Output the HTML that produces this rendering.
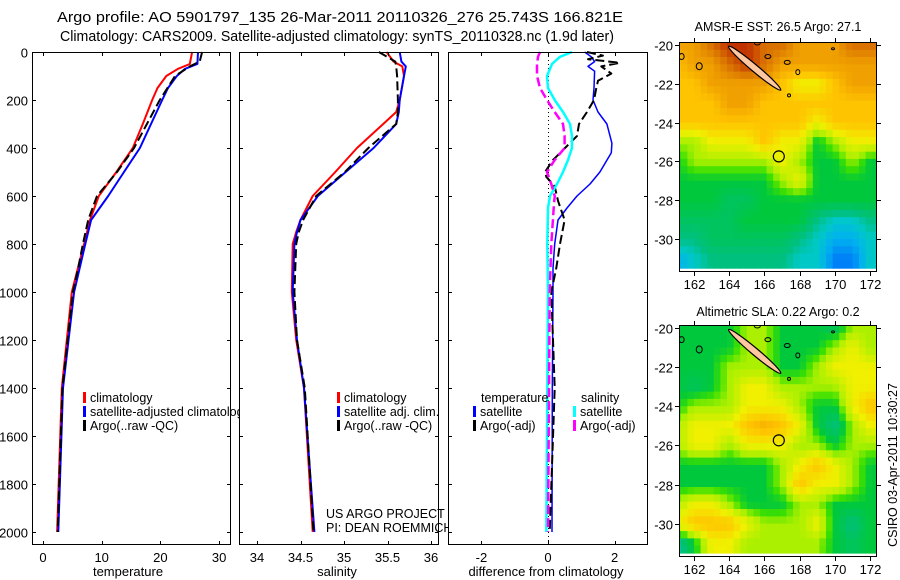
<!DOCTYPE html>
<html><head><meta charset="utf-8"><style>
html,body{margin:0;padding:0;background:#fff;}
svg{display:block;font-family:"Liberation Sans",sans-serif;}
</style></head><body>
<svg id="c" width="900" height="580" viewBox="0 0 900 580"></svg>
<script>
// ---------- data ----------
const tempDepth=[0,50,70,100,150,200,300,400,500,600,700,800,1000,1400,2000];
const tempClim=[25.4,25.0,23.0,21.0,19.5,18.6,17.0,15.3,12.5,9.5,8.0,7.0,4.9,3.2,2.4];
const tempSat=[26.4,26.3,24.2,22.8,21.3,20.3,18.4,16.5,13.8,11.1,8.2,7.2,5.3,3.4,2.6];
const argoDepth=[0,40,60,100,200,300,400,500,600,700,800,900,1000,1400,2000];
const tempArgo=[27.1,26.7,25.0,22.5,19.9,17.7,15.5,12.6,9.2,7.7,6.8,6.0,5.1,3.3,2.5];
const salDepth=[0,40,60,100,200,250,300,400,500,600,700,750,800,1000,1200,1400,2000];
const salClim=[35.49,35.57,35.67,35.69,35.64,35.6,35.45,35.15,34.9,34.64,34.5,34.45,34.41,34.4,34.45,34.54,34.64];
const salSat=[35.64,35.66,35.71,35.69,35.64,35.63,35.6,35.34,35.02,34.7,34.5,34.46,34.43,34.41,34.46,34.54,34.66];
const salArgo=[35.4,35.59,35.6,35.61,35.62,35.62,35.6,35.28,35.01,34.68,34.53,34.48,34.45,34.43,34.46,34.55,34.65];
const diffDepth=[0,20,40,60,80,150,200,250,300,380,420,500,550,600,650,700,800,900,1000,1400,2000];
const dTempSat=[1.1,1.3,1.4,1.2,1.4,1.38,1.35,1.5,1.77,1.92,1.9,1.56,1.26,0.87,0.57,0.3,0.2,0.15,0.15,0.13,0.12];
const argoDiffDepth=[0,15,30,45,60,90,120,150,200,250,300,350,400,450,500,520,560,620,700,800,900,1000,1400,2000];
const dTempArgo=[1.17,1.65,1.2,2.15,1.6,1.9,1.5,1.45,1.38,1.17,0.93,0.87,0.51,0.15,-0.09,-0.05,0.2,0.3,0.5,0.36,0.25,0.1,0.2,0.05];
const sDiffDepth=[0,20,50,100,150,200,250,300,350,400,450,500,550,600,650,800,1000,2000];
const dSalSat=[0.72,0.36,0.12,-0.03,0,0.2,0.45,0.66,0.72,0.72,0.6,0.45,0.27,0.06,0,-0.02,0,-0.05];
const dSalArgo=[-0.24,-0.3,-0.33,-0.33,-0.24,-0.03,0.2,0.45,0.5,0.5,0.2,-0.03,0.1,0.2,0.17,0.1,0.05,0];
const depthTicks=[0,200,400,600,800,1000,1200,1400,1600,1800,2000];
const tempTicks=[0,10,20,30];
const salTicks=[34,34.5,35,35.5,36];
const diffTicks=[-2,0,2];
const lonTicks=[162,164,166,168,170,172];
const latTicks=[-20,-22,-24,-26,-28,-30];
const gridLon=[161,162,163,164,165,166,167,168,169,170,171,172];
const gridLat=[-20,-21,-22,-23,-24,-25,-26,-27,-28,-29,-30,-31];
const sstGrid=[
[7,7,8,9,9,8,8,7,7,7,8,8],
[6,7,7,8,9,8,7,7,7,7,7,7],
[6,6,7,7,7,7,6,5,5,6,7,7],
[6,6,6,7,7,6,6,6,6,6,6,6],
[6,6,6,6,6,6,6,6,5,6,6,6],
[4,4,5,5,5,6,5,5,3,4,5,5],
[3,4,4,4,4,4,5,4,3,3,4,3],
[3,3,3,3,3,3,4,5,3,3,3,3],
[3,3,3,2.5,2.5,3,3,3,3,3,3,3],
[2.5,2.5,2.5,2.5,3,3,3,3,2,1.5,1.5,2],
[2,2,2.5,2.5,2.5,2.5,2.5,2,1.5,1,1,1.5],
[1,1.5,2,2,2,2,2,1.5,1.5,0.5,0.5,1.5]];
const slaGrid=[
[3,3,3,3,4,4,3,3,3,2.5,4,4],
[3,3,3,3,4,4,3,3,3,4,5,4],
[3,3,3,4,4,4,3,3,4,5,5,5],
[3,2.5,3,4,5,5,4,4,4,4,5,5],
[3,4,4,4,5,5,5,4,3,3,5,6],
[4,5,5,5,6,6.5,6,5,3,2,4,5],
[4,5,5,4,5,5,5,4,4,3,4,4],
[3,3,3,3,3,3,4,5,6,5,4,3],
[3,3,3,3,3,3,4,6,5,5,4,3],
[4,5,5,4,3,3,3,4,4,3,3,3],
[5,6,6,6,5,4,4,4,5,3,2,3],
[1.5,3,5,5,4,4,4,4,4,3,2.5,3]];
const argoLon=166.821, argoLat=-25.743;

// ---------- helpers ----------
const svg=document.getElementById('c');
const NS='http://www.w3.org/2000/svg';
function mk(tag,attrs,parent){const e=document.createElementNS(NS,tag);for(const k in attrs)e.setAttribute(k,attrs[k]);(parent||svg).appendChild(e);return e;}
function txt(x,y,s,anchor,size,parent){const t=mk('text',{x:x,y:y,'font-size':size||13,'text-anchor':anchor||'start',fill:'#000'},parent);t.textContent=s;return t;}
const Y0=52,Y1=545;
const yD=d=>52+d*0.24;

function panel(name,x0,x1){
  const g=mk('g',{});
  
  
  mk('rect',{x:x0,y:Y0,width:x1-x0,height:Y1-Y0,fill:'#fff',stroke:'none'},g);
  return g;
}
function frame(g,x0,x1,xs,ticks,label,labelX,leftLabels){
  mk('rect',{x:x0+0.5,y:Y0+0.5,width:x1-x0-1,height:Y1-Y0-1,fill:'none',stroke:'#000','stroke-width':1},g);
  ticks.forEach(v=>{const x=Math.round(xs(v))+0.5;
    mk('line',{x1:x,y1:Y0,x2:x,y2:Y0+4,stroke:'#000'},g);
    mk('line',{x1:x,y1:Y1,x2:x,y2:Y1-4,stroke:'#000'},g);
    const t=txt(xs(v),562,String(v),'middle',13,g);
    
  });
  depthTicks.forEach(d=>{const y=Math.round(yD(d))+0.5;
    mk('line',{x1:x0,y1:y,x2:x0+4,y2:y,stroke:'#000'},g);
    mk('line',{x1:x1,y1:y,x2:x1-4,y2:y,stroke:'#000'},g);
    if(leftLabels){const t=txt(28,y+5,String(d),'end',13,g);
      }
  });
  const l=txt(labelX,576,label,'middle',13,g);
  
}
function line(g,xs,depths,vals,color,w,dash,name){
  const pts=depths.map((d,i)=>xs(vals[i]).toFixed(1)+','+yD(d).toFixed(1)).join(' ');
  const p=mk('polyline',{points:pts,fill:'none',stroke:color,'stroke-width':w,'stroke-linejoin':'round'},g);
  if(dash)p.setAttribute('stroke-dasharray',dash);
  
  
}
function legendItem(g,x,y,color,label){
  mk('rect',{x:x,y:y-10,width:3,height:11,fill:color},g);
  txt(x+7,y,label,'start',12.5,g);
}

// ---------- titles ----------
const t1=txt(340,22,'Argo profile: AO 5901797_135 26-Mar-2011 20110326_276 25.743S 166.821E','middle',14.5);
t1.setAttribute('textLength','566');t1.setAttribute('lengthAdjust','spacingAndGlyphs');

const t2=txt(337,41,'Climatology: CARS2009. Satellite-adjusted climatology: synTS_20110328.nc (1.9d later)','middle',14.5);
t2.setAttribute('textLength','554');t2.setAttribute('lengthAdjust','spacingAndGlyphs');


// ---------- panel 1: temperature ----------
const xT=v=>43+v*5.87;
const g1=panel('temperature-panel',32,231);
line(g1,xT,tempDepth,tempClim,'#f00',2,null,'temp-climatology-line');
line(g1,xT,tempDepth,tempSat,'#00f',2,null,'temp-satellite-line');
line(g1,xT,argoDepth,tempArgo,'#000',2,'9,4','temp-argo-line');
frame(g1,32,231,xT,tempTicks,'temperature',128,true);
const lg1=mk('g',{},g1);
legendItem(lg1,83,402,'#f00','climatology');
legendItem(lg1,83,416,'#00f','satellite-adjusted climatology');
legendItem(lg1,83,430,'#000','Argo(..raw -QC)');

// ---------- panel 2: salinity ----------
const xS=v=>257+(v-34)*87;
const g2=panel('salinity-panel',239,439);
line(g2,xS,salDepth,salClim,'#f00',2,null,'sal-climatology-line');
line(g2,xS,salDepth,salSat,'#00f',2,null,'sal-satellite-line');
line(g2,xS,salDepth,salArgo,'#000',2,'9,4','sal-argo-line');
frame(g2,239,439,xS,salTicks,'salinity',337,false);
const lg2=mk('g',{},g2);
legendItem(lg2,337,402,'#f00','climatology');
legendItem(lg2,337,416,'#00f','satellite adj. clim.');
legendItem(lg2,337,430,'#000','Argo(..raw -QC)');
const c1=txt(326,518,'US ARGO PROJECT','start',12.5,g2);
const c2=txt(326,532,'PI: DEAN ROEMMICH','start',12.5,g2);

// ---------- panel 3: difference ----------
const xDf=v=>548+v*33.3;
const g3=panel('difference-panel',448,648);
mk('line',{x1:548.5,y1:Y0,x2:548.5,y2:Y1,stroke:'#000','stroke-dasharray':'1,3'},g3);
line(g3,xDf,diffDepth,dTempSat,'#00f',1.5,null,'temp-satellite-diff-line');
line(g3,xDf,argoDiffDepth,dTempArgo,'#000',2,'9,4','temp-argo-diff-line');
line(g3,xDf,sDiffDepth,dSalSat,'#0ff',2.5,null,'sal-satellite-diff-line');
line(g3,xDf,sDiffDepth,dSalArgo,'#f0f',2.5,'9,4','sal-argo-diff-line');
frame(g3,448,648,xDf,diffTicks,'difference from climatology',546,false);
const lg3=mk('g',{},g3);
txt(481,402,'temperature','start',12.5,lg3);
legendItem(lg3,473,416,'#00f','satellite');
legendItem(lg3,473,430,'#000','Argo(-adj)');
txt(581,402,'salinity','start',12.5,lg3);
legendItem(lg3,573,416,'#0ff','satellite');
legendItem(lg3,573,430,'#f0f','Argo(-adj)');

// ---------- maps ----------
const pal=[[0,[0,80,255]],[1,[0,176,240]],[1.5,[0,200,200]],[2,[0,192,128]],[3,[0,200,60]],[3.5,[60,224,0]],[4,[170,240,0]],[5,[240,240,0]],[6,[255,196,0]],[7,[240,160,0]],[8,[216,112,0]],[9,[192,48,0]],[10,[160,0,0]]];
function col(v){for(let i=1;i<pal.length;i++){if(v<=pal[i][0]){const a=pal[i-1],b=pal[i],t=(v-a[0])/(b[0]-a[0]);return 'rgb('+a[1].map((c,k)=>Math.round(c+(b[1][k]-c)*t)).join(',')+')';}}return 'rgb(160,0,0)';}
function sample(grid,fi,fj){
  fi=Math.max(0,Math.min(grid[0].length-1,fi));fj=Math.max(0,Math.min(grid.length-1,fj));
  const i0=Math.floor(fi),j0=Math.floor(fj),i1=Math.min(i0+1,grid[0].length-1),j1=Math.min(j0+1,grid.length-1);
  const a=fi-i0,b=fj-j0;
  return grid[j0][i0]*(1-a)*(1-b)+grid[j0][i1]*a*(1-b)+grid[j1][i0]*(1-a)*b+grid[j1][i1]*a*b;
}
function map(name,top,bottom,grid,title,titleY){
  const x0=679,x1=877,lonA=161.15,lonB=172.4,latA=-19.85,latB=-31.7;
  const mx=l=>x0+(l-lonA)/(lonB-lonA)*(x1-x0);
  const my=l=>top+(l-latA)/(latB-latA)*(bottom-top);
  const g=mk('g',{});
  const cid=name+'-clip';
  const cp=mk('clipPath',{id:cid},g);mk('rect',{x:x0,y:top,width:x1-x0,height:bottom-top},cp);
  const cells=mk('g',{'clip-path':'url(#'+cid+')'},g);
  const step=0.375;
  for(let lat=gridLat[0]+0.5;lat>gridLat[gridLat.length-1]-0.5;lat-=step){
    for(let lon=gridLon[0]-0.5;lon<gridLon[gridLon.length-1]+0.5;lon+=step){
      const fi=(lon+step/2-gridLon[0]),fj=(gridLat[0]-(lat-step/2));
      const v=sample(grid,fi,fj);
      const xa=mx(lon),xb=mx(lon+step),ya=my(lat),yb=my(lat-step);
      const r=mk('rect',{x:xa.toFixed(1),y:ya.toFixed(1),width:(xb-xa+0.6).toFixed(1),height:(yb-ya+0.6).toFixed(1),fill:col(v)},cells);
      
      
    }
  }
  const cx=mx(165.45),cy=my(-21.2);
  const isl=mk('ellipse',{cx:cx,cy:cy,rx:34,ry:3.5,fill:'#ffc8a0',stroke:'#000','stroke-width':1.2,transform:'rotate(40 '+cx+' '+cy+')'},cells);
  
  [[167.3,-20.9,3,2],[167.9,-21.4,2,2.5],[166.2,-20.6,3,2],[162.3,-21.1,3,3.5],[161.3,-20.6,2.5,3],[165.6,-19.9,3,2],[169.9,-20.2,1.5,1],[167.4,-22.6,1.5,1.5]].forEach(p=>{
    mk('ellipse',{cx:mx(p[0]),cy:my(p[1]),rx:p[2],ry:p[3],fill:'none',stroke:'#000','stroke-width':1},cells);
  });
  const ac=mk('circle',{cx:mx(argoLon),cy:my(argoLat),r:5.5,fill:'none',stroke:'#000','stroke-width':1.2},g);
  
  mk('rect',{x:x0+0.5,y:top+0.5,width:x1-x0-1,height:bottom-top-1,fill:'none',stroke:'#000'},g);
  lonTicks.forEach(l=>{const x=Math.round(mx(l))+0.5;
    mk('line',{x1:x,y1:top,x2:x,y2:top-4,stroke:'#000'},g);mk('line',{x1:x,y1:bottom,x2:x,y2:bottom+4,stroke:'#000'},g);
    txt(x,bottom+17,String(l),'middle',13,g);});
  latTicks.forEach(l=>{const y=Math.round(my(l))+0.5;
    mk('line',{x1:x0,y1:y,x2:x0-4,y2:y,stroke:'#000'},g);mk('line',{x1:x1,y1:y,x2:x1+4,y2:y,stroke:'#000'},g);
    txt(673,y+5,String(l),'end',13,g);});
  const t=txt(778,titleY,title,'middle',12.5,g);
  
}
map('sst-map',42,272,sstGrid,'AMSR-E SST: 26.5 Argo: 27.1',31);
map('sla-map',325,557,slaGrid,'Altimetric SLA: 0.22 Argo: 0.2',316);
const cs=txt(0,0,'CSIRO 03-Apr-2011 10:30:27','middle',12.5);
cs.setAttribute('transform','translate(897,465) rotate(-90)');

</script>
</body></html>
